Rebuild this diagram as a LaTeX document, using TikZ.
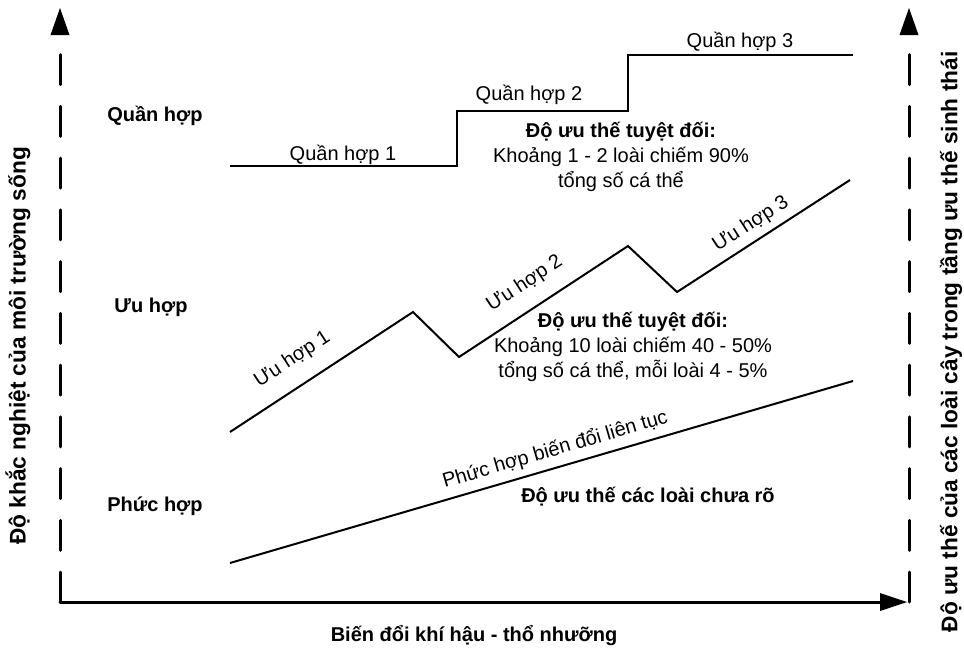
\documentclass[tikz,border=0pt]{standalone}
\usepackage{fontspec}
\setmainfont{Liberation Sans}
\begin{document}
\begin{tikzpicture}[x=0.75pt,y=-0.75pt,
  font=\fontsize{15}{19}\selectfont,
  axis/.style={line width=2.25pt,line cap=round},
  dashaxis/.style={axis,dash pattern=on 22.5pt off 16.3pt},
  curve/.style={line width=1.5pt,line join=miter},
  bold/.style={font=\fontsize{15}{19}\selectfont\bfseries,inner sep=0pt},
  axistitle/.style={font=\fontsize{17}{21}\selectfont\bfseries,inner sep=0pt,rotate=90},
  lbl/.style={inner sep=0pt},
  seglbl/.style={sloped,inner sep=0pt},
  note/.style={align=center,inner sep=0pt}]
\useasboundingbox (0,0) rectangle (964,653);

% axes
\coordinate (o) at (60,602);
\coordinate (ltop) at (60,53);
\coordinate (r0) at (909,602);
\coordinate (rtop) at (909,53);
\coordinate (xend) at (882,602);
\draw[dashaxis] (o) -- (ltop);
\draw[dashaxis] (r0) -- (rtop);
\draw[axis] (o) -- (xend);
\fill (60,8) -- (69.5,35) -- (50.5,35) -- cycle;
\fill (909,8) -- (918.5,35) -- (899.5,35) -- cycle;
\fill (907,602) -- (880,593) -- (880,611) -- cycle;

% axis titles
\node[axistitle] (ylab) at (18,346) {Độ khắc nghiệt của môi trường sống};
\node[axistitle] (rlab) at (951,342) {Độ ưu thế của các loài cây trong tầng ưu thế sinh thái};
\node[bold] (xlab) at (474,636) {Biến đổi khí hậu - thổ nhưỡng};

% stage names
\node[bold] (sq) at (155,116) {Quần hợp};
\node[bold] (su) at (151,307) {Ưu hợp};
\node[bold] (sp) at (155,506) {Phức hợp};

% Quan hop steps
\coordinate (q0) at (230,166);
\coordinate (q1) at (457,166);
\coordinate (q2) at (457,111);
\coordinate (q3) at (628,111);
\coordinate (q4) at (628,55);
\coordinate (q5) at (853,55);
\draw[curve] (q0) -- (q1) -- (q2) -- (q3) -- (q4) -- (q5);
\node[lbl] (ql1) at (343,155) {Quần hợp 1};
\node[lbl] (ql2) at (529,95) {Quần hợp 2};
\node[lbl] (ql3) at (740,42) {Quần hợp 3};

% Uu hop zigzag
\coordinate (u0) at (230,432);
\coordinate (u1) at (413,312);
\coordinate (u2) at (459,357);
\coordinate (u3) at (628,246);
\coordinate (u4) at (677,292);
\coordinate (u5) at (850,180);
\draw[curve] (u0) -- node[seglbl,above=12pt,pos=0.42] (ul1) {Ưu hợp 1} (u1)
  -- (u2) -- node[seglbl,above=11pt,pos=0.47] (ul2) {Ưu hợp 2} (u3)
  -- (u4) -- node[seglbl,above=5pt,pos=0.48] (ul3) {Ưu hợp 3} (u5);

% Phuc hop line
\coordinate (p0) at (230,563);
\coordinate (p1) at (853,381);
\draw[curve] (p0) -- node[seglbl,above=5pt,pos=0.53] (pl) {Phức hợp biến đổi liên tục} (p1);

% dominance notes
\node[note] (n1) at (621,157) {\textbf{Độ ưu thế tuyệt đối:}\\Khoảng 1 - 2 loài chiếm 90\%\\tổng số cá thể};
\node[note] (n2) at (633,347) {\textbf{Độ ưu thế tuyệt đối:}\\Khoảng 10 loài chiếm 40 - 50\%\\tổng số cá thể, mỗi loài 4 - 5\%};
\node[bold] (n3) at (648,497) {Độ ưu thế các loài chưa rõ};
\end{tikzpicture}
\end{document}
